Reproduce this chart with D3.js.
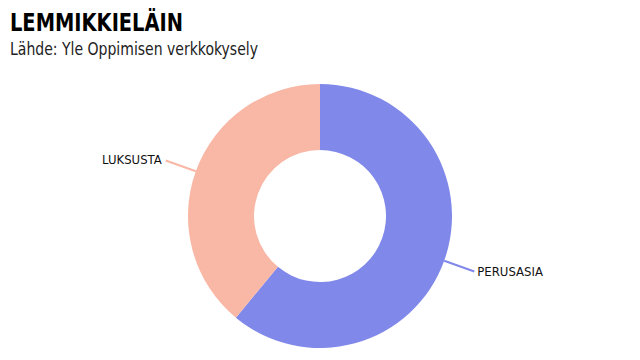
<!DOCTYPE html>
<html><head><meta charset="utf-8">
<script src="https://cdn.jsdelivr.net/npm/d3@7"></script>
<style>
body{margin:0;background:#fff;}
svg{display:block;}
</style></head>
<body>
<svg id="c" width="640" height="360"></svg>
<script>
const categories = ["PERUSASIA", "LUKSUSTA"];
const values = [61, 39];
const colors = ["#8088e9", "#f9b7a5"];
const title = "LEMMIKKIELÄIN";
const subtitle = "Lähde: Yle Oppimisen verkkokysely";

const svg = d3.select("#c");
const font = "'DejaVu Sans Condensed','Open Sans',sans-serif";

svg.append("text").attr("x", 10).attr("y", 31)
  .attr("font-family", font).attr("font-weight", "bold").attr("font-size", 25)
  .attr("textLength", 173).attr("lengthAdjust", "spacingAndGlyphs")
  .attr("fill", "#000").text(title);
svg.append("text").attr("x", 10).attr("y", 55)
  .attr("font-family", font).attr("font-size", 18)
  .attr("textLength", 248).attr("lengthAdjust", "spacingAndGlyphs")
  .attr("fill", "#222").text(subtitle);

const cx = 320, cy = 216, rOuter = 132, rInner = 66, rLabel = 164;
const data = categories.map((c, i) => ({ name: c, value: values[i], color: colors[i] }));
const pie = d3.pie().value(d => d.value).sort(null);
const arcs = pie(data);
const arc = d3.arc().innerRadius(rInner).outerRadius(rOuter);

const g = svg.append("g").attr("transform", `translate(${cx},${cy})`);
g.selectAll("path.slice").data(arcs).join("path")
  .attr("class", "slice")
  .attr("d", arc)
  .attr("fill", d => d.data.color);

const pt = (a, r) => [r * Math.sin(a), -r * Math.cos(a)];
arcs.forEach(d => {
  const a = (d.startAngle + d.endAngle) / 2;
  const p1 = pt(a, rOuter), p2 = pt(a, rLabel);
  g.append("line").attr("x1", p1[0]).attr("y1", p1[1]).attr("x2", p2[0]).attr("y2", p2[1])
    .attr("stroke", d.data.color).attr("stroke-width", 2);
  const right = p2[0] > 0;
  g.append("text").attr("x", p2[0] + (right ? 3 : -4)).attr("y", p2[1] + 4)
    .attr("text-anchor", right ? "start" : "end")
    .attr("font-family", font).attr("font-size", 13).attr("fill", "#111")
    .text(d.data.name);
});
</script>
</body></html>
